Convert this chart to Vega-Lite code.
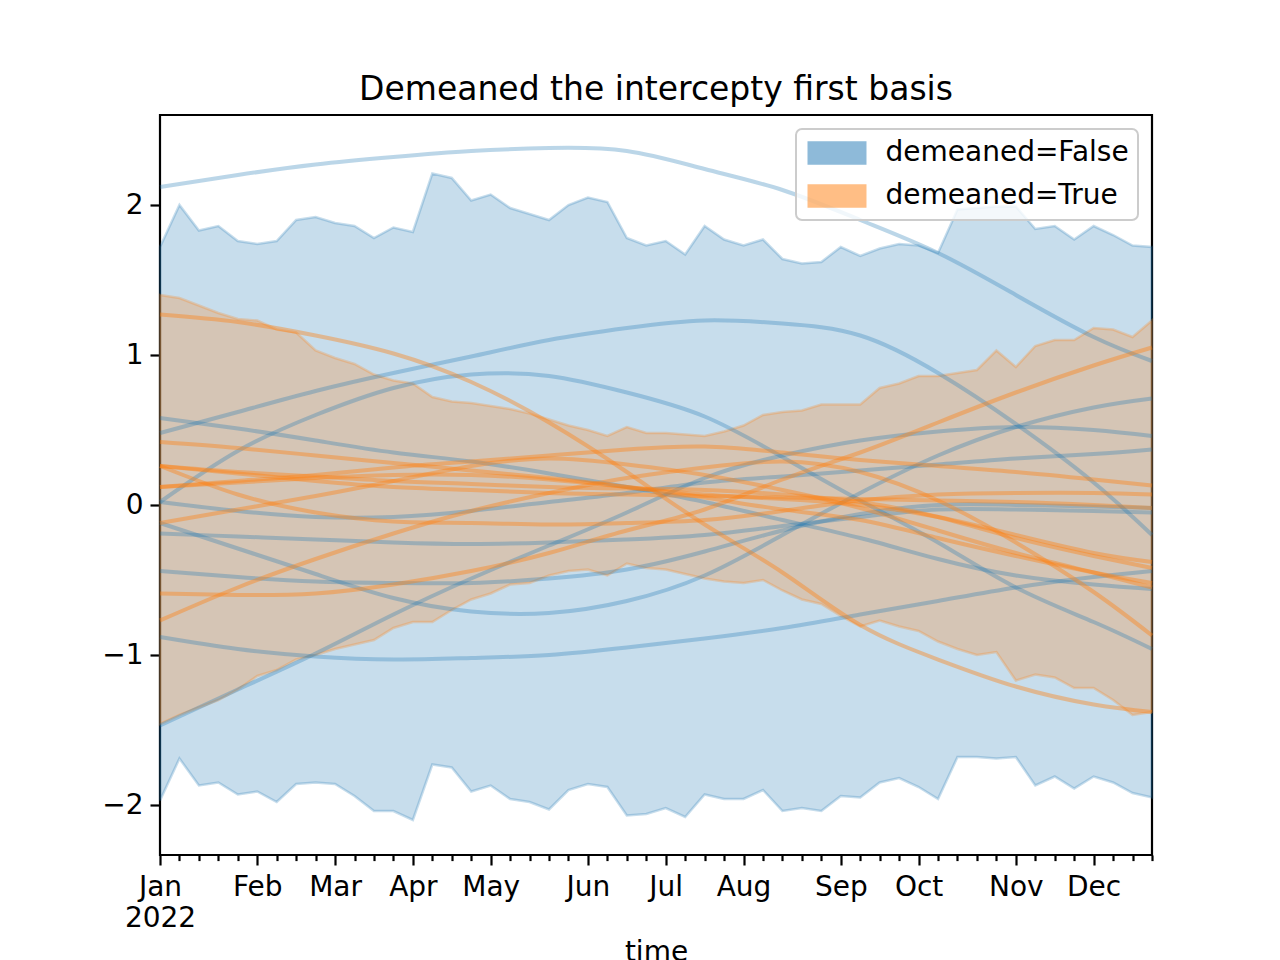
{
  "$schema": "https://vega.github.io/schema/vega-lite/v6.json",
  "width": 992,
  "height": 740,
  "autosize": "none",
  "padding": {"left": 160, "top": 115, "right": 128, "bottom": 105},
  "title": {"text": "Demeaned the intercepty first basis", "fontSize": 33, "font": "DejaVu Sans", "fontWeight": "normal", "baseline": "alphabetic", "offset": -18, "color": "#000000"},
  "config": {
    "view": {"stroke": "#000000", "strokeWidth": 2.2},
    "font": "DejaVu Sans",
    "axis": {"domain": false, "grid": false, "labelFont": "DejaVu Sans", "labelFontSize": 28, "labelColor": "#000000", "tickColor": "#000000", "tickWidth": 2.2, "titleFont": "DejaVu Sans", "titleFontSize": 28, "titleFontWeight": "normal", "titleColor": "#000000"},
    "legend": {"orient": "top-right", "offset": 14, "title": null, "fillColor": "rgba(255,255,255,0.8)", "strokeColor": "#cccccc", "strokeWidth": 2, "cornerRadius": 6, "padding": 8.5, "labelFont": "DejaVu Sans", "labelFontSize": 28, "labelColor": "#000000", "labelLimit": 500, "symbolType": "M-2,-0.75L2,-0.75L2,0.75L-2,0.75Z", "symbolSize": 812, "symbolOpacity": 0.5, "symbolStrokeWidth": 2, "symbolOffset": 17, "rowPadding": 12, "labelOffset": 33}
  },
  "datasets": {
    "bands": [
      {"time": "2022-01-03", "group": "demeaned=False", "lower": -1.97, "upper": 1.72},
      {"time": "2022-01-10", "group": "demeaned=False", "lower": -1.69, "upper": 2.00},
      {"time": "2022-01-17", "group": "demeaned=False", "lower": -1.87, "upper": 1.83},
      {"time": "2022-01-24", "group": "demeaned=False", "lower": -1.85, "upper": 1.86},
      {"time": "2022-01-31", "group": "demeaned=False", "lower": -1.93, "upper": 1.76},
      {"time": "2022-02-07", "group": "demeaned=False", "lower": -1.91, "upper": 1.74},
      {"time": "2022-02-14", "group": "demeaned=False", "lower": -1.98, "upper": 1.76},
      {"time": "2022-02-21", "group": "demeaned=False", "lower": -1.86, "upper": 1.90},
      {"time": "2022-02-28", "group": "demeaned=False", "lower": -1.85, "upper": 1.92},
      {"time": "2022-03-07", "group": "demeaned=False", "lower": -1.86, "upper": 1.88},
      {"time": "2022-03-14", "group": "demeaned=False", "lower": -1.94, "upper": 1.86},
      {"time": "2022-03-21", "group": "demeaned=False", "lower": -2.04, "upper": 1.78},
      {"time": "2022-03-28", "group": "demeaned=False", "lower": -2.04, "upper": 1.85},
      {"time": "2022-04-04", "group": "demeaned=False", "lower": -2.10, "upper": 1.82},
      {"time": "2022-04-11", "group": "demeaned=False", "lower": -1.73, "upper": 2.21},
      {"time": "2022-04-18", "group": "demeaned=False", "lower": -1.75, "upper": 2.18},
      {"time": "2022-04-25", "group": "demeaned=False", "lower": -1.91, "upper": 2.03},
      {"time": "2022-05-02", "group": "demeaned=False", "lower": -1.87, "upper": 2.07},
      {"time": "2022-05-09", "group": "demeaned=False", "lower": -1.96, "upper": 1.98},
      {"time": "2022-05-16", "group": "demeaned=False", "lower": -1.98, "upper": 1.94},
      {"time": "2022-05-23", "group": "demeaned=False", "lower": -2.03, "upper": 1.90},
      {"time": "2022-05-30", "group": "demeaned=False", "lower": -1.90, "upper": 2.00},
      {"time": "2022-06-06", "group": "demeaned=False", "lower": -1.86, "upper": 2.05},
      {"time": "2022-06-13", "group": "demeaned=False", "lower": -1.88, "upper": 2.02},
      {"time": "2022-06-20", "group": "demeaned=False", "lower": -2.07, "upper": 1.78},
      {"time": "2022-06-27", "group": "demeaned=False", "lower": -2.06, "upper": 1.73},
      {"time": "2022-07-04", "group": "demeaned=False", "lower": -2.02, "upper": 1.76},
      {"time": "2022-07-11", "group": "demeaned=False", "lower": -2.08, "upper": 1.67},
      {"time": "2022-07-18", "group": "demeaned=False", "lower": -1.93, "upper": 1.86},
      {"time": "2022-07-25", "group": "demeaned=False", "lower": -1.96, "upper": 1.77},
      {"time": "2022-08-01", "group": "demeaned=False", "lower": -1.96, "upper": 1.73},
      {"time": "2022-08-08", "group": "demeaned=False", "lower": -1.90, "upper": 1.77},
      {"time": "2022-08-15", "group": "demeaned=False", "lower": -2.04, "upper": 1.64},
      {"time": "2022-08-22", "group": "demeaned=False", "lower": -2.02, "upper": 1.61},
      {"time": "2022-08-29", "group": "demeaned=False", "lower": -2.04, "upper": 1.62},
      {"time": "2022-09-05", "group": "demeaned=False", "lower": -1.94, "upper": 1.72},
      {"time": "2022-09-12", "group": "demeaned=False", "lower": -1.95, "upper": 1.66},
      {"time": "2022-09-19", "group": "demeaned=False", "lower": -1.85, "upper": 1.71},
      {"time": "2022-09-26", "group": "demeaned=False", "lower": -1.82, "upper": 1.74},
      {"time": "2022-10-03", "group": "demeaned=False", "lower": -1.88, "upper": 1.73},
      {"time": "2022-10-10", "group": "demeaned=False", "lower": -1.96, "upper": 1.68},
      {"time": "2022-10-17", "group": "demeaned=False", "lower": -1.68, "upper": 1.97},
      {"time": "2022-10-24", "group": "demeaned=False", "lower": -1.68, "upper": 1.98},
      {"time": "2022-10-31", "group": "demeaned=False", "lower": -1.69, "upper": 1.99},
      {"time": "2022-11-07", "group": "demeaned=False", "lower": -1.68, "upper": 1.99},
      {"time": "2022-11-14", "group": "demeaned=False", "lower": -1.87, "upper": 1.84},
      {"time": "2022-11-21", "group": "demeaned=False", "lower": -1.81, "upper": 1.86},
      {"time": "2022-11-28", "group": "demeaned=False", "lower": -1.89, "upper": 1.77},
      {"time": "2022-12-05", "group": "demeaned=False", "lower": -1.81, "upper": 1.86},
      {"time": "2022-12-12", "group": "demeaned=False", "lower": -1.85, "upper": 1.80},
      {"time": "2022-12-19", "group": "demeaned=False", "lower": -1.92, "upper": 1.73},
      {"time": "2022-12-26", "group": "demeaned=False", "lower": -1.95, "upper": 1.72},
      {"time": "2022-01-03", "group": "demeaned=True", "lower": -1.46, "upper": 1.40},
      {"time": "2022-01-10", "group": "demeaned=True", "lower": -1.40, "upper": 1.38},
      {"time": "2022-01-17", "group": "demeaned=True", "lower": -1.35, "upper": 1.33},
      {"time": "2022-01-24", "group": "demeaned=True", "lower": -1.30, "upper": 1.28},
      {"time": "2022-01-31", "group": "demeaned=True", "lower": -1.23, "upper": 1.24},
      {"time": "2022-02-07", "group": "demeaned=True", "lower": -1.14, "upper": 1.23},
      {"time": "2022-02-14", "group": "demeaned=True", "lower": -1.10, "upper": 1.17},
      {"time": "2022-02-21", "group": "demeaned=True", "lower": -1.03, "upper": 1.15},
      {"time": "2022-02-28", "group": "demeaned=True", "lower": -1.00, "upper": 1.03},
      {"time": "2022-03-07", "group": "demeaned=True", "lower": -0.96, "upper": 0.98},
      {"time": "2022-03-14", "group": "demeaned=True", "lower": -0.93, "upper": 0.94},
      {"time": "2022-03-21", "group": "demeaned=True", "lower": -0.90, "upper": 0.87},
      {"time": "2022-03-28", "group": "demeaned=True", "lower": -0.82, "upper": 0.83},
      {"time": "2022-04-04", "group": "demeaned=True", "lower": -0.78, "upper": 0.81},
      {"time": "2022-04-11", "group": "demeaned=True", "lower": -0.78, "upper": 0.72},
      {"time": "2022-04-18", "group": "demeaned=True", "lower": -0.70, "upper": 0.69},
      {"time": "2022-04-25", "group": "demeaned=True", "lower": -0.63, "upper": 0.68},
      {"time": "2022-05-02", "group": "demeaned=True", "lower": -0.59, "upper": 0.66},
      {"time": "2022-05-09", "group": "demeaned=True", "lower": -0.53, "upper": 0.64},
      {"time": "2022-05-16", "group": "demeaned=True", "lower": -0.52, "upper": 0.61},
      {"time": "2022-05-23", "group": "demeaned=True", "lower": -0.47, "upper": 0.57},
      {"time": "2022-05-30", "group": "demeaned=True", "lower": -0.44, "upper": 0.53},
      {"time": "2022-06-06", "group": "demeaned=True", "lower": -0.43, "upper": 0.50},
      {"time": "2022-06-13", "group": "demeaned=True", "lower": -0.47, "upper": 0.46},
      {"time": "2022-06-20", "group": "demeaned=True", "lower": -0.39, "upper": 0.52},
      {"time": "2022-06-27", "group": "demeaned=True", "lower": -0.42, "upper": 0.48},
      {"time": "2022-07-04", "group": "demeaned=True", "lower": -0.43, "upper": 0.48},
      {"time": "2022-07-11", "group": "demeaned=True", "lower": -0.46, "upper": 0.47},
      {"time": "2022-07-18", "group": "demeaned=True", "lower": -0.49, "upper": 0.46},
      {"time": "2022-07-25", "group": "demeaned=True", "lower": -0.51, "upper": 0.49},
      {"time": "2022-08-01", "group": "demeaned=True", "lower": -0.52, "upper": 0.53},
      {"time": "2022-08-08", "group": "demeaned=True", "lower": -0.50, "upper": 0.60},
      {"time": "2022-08-15", "group": "demeaned=True", "lower": -0.57, "upper": 0.62},
      {"time": "2022-08-22", "group": "demeaned=True", "lower": -0.63, "upper": 0.63},
      {"time": "2022-08-29", "group": "demeaned=True", "lower": -0.66, "upper": 0.67},
      {"time": "2022-09-05", "group": "demeaned=True", "lower": -0.74, "upper": 0.67},
      {"time": "2022-09-12", "group": "demeaned=True", "lower": -0.81, "upper": 0.67},
      {"time": "2022-09-19", "group": "demeaned=True", "lower": -0.77, "upper": 0.78},
      {"time": "2022-09-26", "group": "demeaned=True", "lower": -0.81, "upper": 0.81},
      {"time": "2022-10-03", "group": "demeaned=True", "lower": -0.84, "upper": 0.86},
      {"time": "2022-10-10", "group": "demeaned=True", "lower": -0.91, "upper": 0.86},
      {"time": "2022-10-17", "group": "demeaned=True", "lower": -0.96, "upper": 0.88},
      {"time": "2022-10-24", "group": "demeaned=True", "lower": -1.00, "upper": 0.90},
      {"time": "2022-10-31", "group": "demeaned=True", "lower": -0.98, "upper": 1.03},
      {"time": "2022-11-07", "group": "demeaned=True", "lower": -1.17, "upper": 0.92},
      {"time": "2022-11-14", "group": "demeaned=True", "lower": -1.13, "upper": 1.06},
      {"time": "2022-11-21", "group": "demeaned=True", "lower": -1.15, "upper": 1.10},
      {"time": "2022-11-28", "group": "demeaned=True", "lower": -1.22, "upper": 1.10},
      {"time": "2022-12-05", "group": "demeaned=True", "lower": -1.22, "upper": 1.18},
      {"time": "2022-12-12", "group": "demeaned=True", "lower": -1.30, "upper": 1.17},
      {"time": "2022-12-19", "group": "demeaned=True", "lower": -1.40, "upper": 1.12},
      {"time": "2022-12-26", "group": "demeaned=True", "lower": -1.38, "upper": 1.23}
    ],
    "blue": [
      {"time": "2022-01-03", "b1": 2.12, "b2": 0.48, "b3": 0.02, "b4": -1.47, "b5": 0.02, "b6": -0.12, "b7": -0.19, "b8": -0.44, "b9": 0.58, "b10": -0.88},
      {"time": "2022-01-31", "b1": 2.20, "b2": 0.62, "b3": 0.36, "b4": -1.23, "b5": -0.04, "b6": -0.29, "b7": -0.21, "b8": -0.48, "b9": 0.51, "b10": -0.96},
      {"time": "2022-02-28", "b1": 2.27, "b2": 0.76, "b3": 0.60, "b4": -0.99, "b5": -0.08, "b6": -0.46, "b7": -0.23, "b8": -0.51, "b9": 0.43, "b10": -1.01},
      {"time": "2022-03-28", "b1": 2.32, "b2": 0.88, "b3": 0.78, "b4": -0.73, "b5": -0.08, "b6": -0.62, "b7": -0.25, "b8": -0.52, "b9": 0.35, "b10": -1.03},
      {"time": "2022-04-25", "b1": 2.36, "b2": 0.99, "b3": 0.87, "b4": -0.49, "b5": -0.04, "b6": -0.71, "b7": -0.26, "b8": -0.52, "b9": 0.29, "b10": -1.02},
      {"time": "2022-05-23", "b1": 2.38, "b2": 1.10, "b3": 0.86, "b4": -0.27, "b5": 0.02, "b6": -0.72, "b7": -0.25, "b8": -0.49, "b9": 0.21, "b10": -1.00},
      {"time": "2022-06-20", "b1": 2.36, "b2": 1.18, "b3": 0.75, "b4": -0.05, "b5": 0.08, "b6": -0.64, "b7": -0.23, "b8": -0.43, "b9": 0.12, "b10": -0.95},
      {"time": "2022-07-18", "b1": 2.24, "b2": 1.23, "b3": 0.59, "b4": 0.18, "b5": 0.15, "b6": -0.47, "b7": -0.20, "b8": -0.31, "b9": 0.02, "b10": -0.89},
      {"time": "2022-08-15", "b1": 2.10, "b2": 1.21, "b3": 0.32, "b4": 0.33, "b5": 0.19, "b6": -0.20, "b7": -0.14, "b8": -0.17, "b9": -0.10, "b10": -0.82},
      {"time": "2022-09-12", "b1": 1.90, "b2": 1.13, "b3": 0.03, "b4": 0.43, "b5": 0.23, "b6": 0.08, "b7": -0.08, "b8": -0.06, "b9": -0.22, "b10": -0.73},
      {"time": "2022-10-10", "b1": 1.68, "b2": 0.88, "b3": -0.25, "b4": 0.49, "b5": 0.27, "b6": 0.33, "b7": -0.03, "b8": 0.00, "b9": -0.36, "b10": -0.64},
      {"time": "2022-11-07", "b1": 1.40, "b2": 0.54, "b3": -0.55, "b4": 0.52, "b5": 0.31, "b6": 0.52, "b7": -0.03, "b8": 0.00, "b9": -0.47, "b10": -0.55},
      {"time": "2022-12-05", "b1": 1.12, "b2": 0.15, "b3": -0.78, "b4": 0.50, "b5": 0.34, "b6": 0.65, "b7": -0.04, "b8": -0.01, "b9": -0.53, "b10": -0.48},
      {"time": "2022-12-26", "b1": 0.96, "b2": -0.20, "b3": -0.96, "b4": 0.46, "b5": 0.37, "b6": 0.71, "b7": -0.05, "b8": -0.02, "b9": -0.56, "b10": -0.44}
    ],
    "orange": [
      {"time": "2022-01-03", "o1": 1.27, "o2": -0.77, "o3": 0.42, "o4": 0.26, "o5": 0.26, "o6": 0.12, "o7": 0.12, "o8": -0.12, "o9": 0.26, "o10": -0.59},
      {"time": "2022-01-31", "o1": 1.22, "o2": -0.55, "o3": 0.38, "o4": 0.07, "o5": 0.21, "o6": 0.16, "o7": 0.15, "o8": -0.03, "o9": 0.22, "o10": -0.60},
      {"time": "2022-02-28", "o1": 1.13, "o2": -0.36, "o3": 0.33, "o4": -0.05, "o5": 0.16, "o6": 0.20, "o7": 0.18, "o8": 0.06, "o9": 0.19, "o10": -0.59},
      {"time": "2022-03-28", "o1": 1.01, "o2": -0.19, "o3": 0.28, "o4": -0.11, "o5": 0.12, "o6": 0.25, "o7": 0.20, "o8": 0.16, "o9": 0.16, "o10": -0.53},
      {"time": "2022-04-25", "o1": 0.82, "o2": -0.04, "o3": 0.23, "o4": -0.12, "o5": 0.10, "o6": 0.29, "o7": 0.20, "o8": 0.26, "o9": 0.14, "o10": -0.44},
      {"time": "2022-05-23", "o1": 0.55, "o2": 0.08, "o3": 0.18, "o4": -0.13, "o5": 0.08, "o6": 0.33, "o7": 0.17, "o8": 0.31, "o9": 0.12, "o10": -0.32},
      {"time": "2022-06-20", "o1": 0.22, "o2": 0.18, "o3": 0.12, "o4": -0.12, "o5": 0.07, "o6": 0.37, "o7": 0.12, "o8": 0.27, "o9": 0.11, "o10": -0.17},
      {"time": "2022-07-18", "o1": -0.13, "o2": 0.25, "o3": 0.05, "o4": -0.10, "o5": 0.06, "o6": 0.39, "o7": 0.07, "o8": 0.20, "o9": 0.10, "o10": -0.03},
      {"time": "2022-08-15", "o1": -0.45, "o2": 0.29, "o3": -0.03, "o4": -0.04, "o5": 0.05, "o6": 0.35, "o7": 0.04, "o8": 0.10, "o9": 0.07, "o10": 0.17},
      {"time": "2022-09-12", "o1": -0.80, "o2": 0.22, "o3": -0.10, "o4": 0.03, "o5": 0.04, "o6": 0.30, "o7": 0.00, "o8": -0.02, "o9": 0.02, "o10": 0.35},
      {"time": "2022-10-10", "o1": -1.03, "o2": 0.03, "o3": -0.22, "o4": 0.07, "o5": 0.03, "o6": 0.26, "o7": -0.08, "o8": -0.17, "o9": -0.08, "o10": 0.55},
      {"time": "2022-11-07", "o1": -1.21, "o2": -0.25, "o3": -0.34, "o4": 0.08, "o5": 0.02, "o6": 0.22, "o7": -0.20, "o8": -0.32, "o9": -0.22, "o10": 0.75},
      {"time": "2022-12-05", "o1": -1.33, "o2": -0.58, "o3": -0.45, "o4": 0.08, "o5": 0.00, "o6": 0.17, "o7": -0.32, "o8": -0.45, "o9": -0.34, "o10": 0.93},
      {"time": "2022-12-26", "o1": -1.38, "o2": -0.87, "o3": -0.52, "o4": 0.07, "o5": -0.02, "o6": 0.13, "o7": -0.38, "o8": -0.55, "o9": -0.42, "o10": 1.05}
    ]
  },
  "layer": [
    {
      "data": {"name": "bands"},
      "mark": {"type": "area", "fillOpacity": 0.25, "strokeOpacity": 0.25, "strokeWidth": 2.5},
      "encoding": {
        "x": {
          "field": "time", "type": "temporal",
          "scale": {"type": "utc", "domain": [1641168000000, 1672012800000], "nice": false, "padding": 0},
          "axis": {
            "title": "time", "titlePadding": 6, "tickCount": 200,
            "values": [1641168000000, 1641772800000, 1642377600000, 1642982400000, 1643587200000, 1644192000000, 1644796800000, 1645401600000, 1646006400000, 1646611200000, 1647216000000, 1647820800000, 1648425600000, 1649030400000, 1649635200000, 1650240000000, 1650844800000, 1651449600000, 1652054400000, 1652659200000, 1653264000000, 1653868800000, 1654473600000, 1655078400000, 1655683200000, 1656288000000, 1656892800000, 1657497600000, 1658102400000, 1658707200000, 1659312000000, 1659916800000, 1660521600000, 1661126400000, 1661731200000, 1662336000000, 1662940800000, 1663545600000, 1664150400000, 1664755200000, 1665360000000, 1665964800000, 1666569600000, 1667174400000, 1667779200000, 1668384000000, 1668988800000, 1669593600000, 1670198400000, 1670803200000, 1671408000000, 1672012800000],
            "labelExpr": "utcdate(datum.value) <= 7 ? (utcmonth(datum.value) == 0 ? ['Jan', '2022'] : utcFormat(datum.value, '%b')) : ''",
            "tickSize": {"condition": {"test": "utcdate(datum.value) <= 7", "value": 10}, "value": 5.6},
            "labelPadding": 8, "labelOverlap": false, "labelFlush": false, "labelBound": false, "labelLineHeight": 31
          }
        },
        "y": {
          "field": "lower", "type": "quantitative",
          "scale": {"domain": [-2.3333, 2.6], "nice": false, "zero": false},
          "axis": {"title": null, "values": [-2, -1, 0, 1, 2], "format": "d", "tickSize": 10, "labelPadding": 7}
        },
        "y2": {"field": "upper"},
        "color": {"field": "group", "type": "nominal", "scale": {"domain": ["demeaned=False", "demeaned=True"], "range": ["#1f77b4", "#ff7f0e"]}},
        "stroke": {"field": "group", "type": "nominal", "scale": {"domain": ["demeaned=False", "demeaned=True"], "range": ["#1f77b4", "#ff7f0e"]}}
      }
    },
    {
      "data": {"name": "blue"},
      "transform": [{"fold": ["b1", "b2", "b3", "b4", "b5", "b6", "b7", "b8", "b9", "b10"], "as": ["series", "value"]}],
      "mark": {"type": "line", "color": "#1f77b4", "opacity": 0.3, "strokeWidth": 4, "interpolate": "natural"},
      "encoding": {
        "x": {"field": "time", "type": "temporal"},
        "y": {"field": "value", "type": "quantitative"},
        "detail": {"field": "series", "type": "nominal"}
      }
    },
    {
      "data": {"name": "orange"},
      "transform": [{"fold": ["o1", "o2", "o3", "o4", "o5", "o6", "o7", "o8", "o9", "o10"], "as": ["series", "value"]}],
      "mark": {"type": "line", "color": "#ff7f0e", "opacity": 0.4, "strokeWidth": 4, "interpolate": "natural"},
      "encoding": {
        "x": {"field": "time", "type": "temporal"},
        "y": {"field": "value", "type": "quantitative"},
        "detail": {"field": "series", "type": "nominal"}
      }
    }
  ]
}
